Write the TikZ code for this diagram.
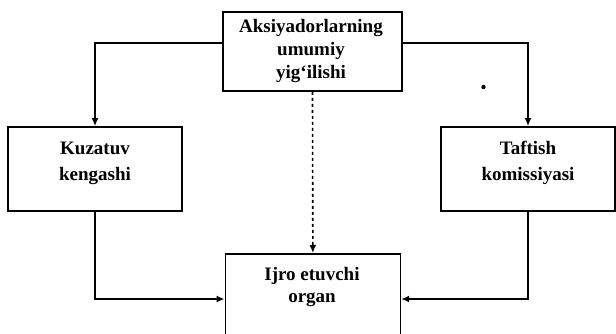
\documentclass[tikz,border=0pt]{standalone}
\usepackage{fontspec}
\setmainfont{Liberation Serif}
\usetikzlibrary{arrows.meta}
\begin{document}
\begin{tikzpicture}[x=1pt,y=-1pt,
  boxst/.style={draw,line width=1.7pt,inner sep=0pt},
  txt/.style={anchor=base,inner sep=0pt,font=\bfseries\fontsize{19}{23}\selectfont},
  conn/.style={line width=1.6pt,-{Latex[length=8pt,width=7pt]}},
  dconn/.style={line width=1.6pt,dash pattern=on 3pt off 3pt,-{Latex[length=8pt,width=7pt]}}]
\useasboundingbox (0,0) rectangle (616,334);
\node[boxst,minimum width=179pt,minimum height=79pt] (top) at (312.5,51.5) {};
\node[txt] (t1) at (311,33) {Aksiyadorlarning};
\node[txt] (t2) at (311,56) {umumiy};
\node[txt] (t3) at (311,79) {yig‘ilishi};
\node[boxst,minimum width=174pt,minimum height=84pt] (kuz) at (95,169) {};
\node[txt] (k1) at (95,155) {Kuzatuv};
\node[txt] (k2) at (95,180) {kengashi};
\node[boxst,minimum width=174pt,minimum height=84pt] (taf) at (528,169) {};
\node[txt] (f1) at (528,155) {Taftish};
\node[txt] (f2) at (528,180) {komissiyasi};
\node[boxst,minimum width=175pt,minimum height=110pt,anchor=north west] (ijro) at (224.5,253) {};
\node[txt] (i1) at (312,280) {Ijro etuvchi};
\node[txt] (i2) at (312,302) {organ};
\coordinate (tl) at (95,43);
\coordinate (tr) at (528,43);
\coordinate (bl) at (95,299);
\coordinate (br) at (528,299);
\draw[conn] (top.west |- tl) -- (tl) -- (kuz.north);
\draw[conn] (top.east |- tr) -- (tr) -- (taf.north);
\draw[conn] (kuz.south) -- (bl) -- (ijro.west |- bl);
\draw[conn] (taf.south) -- (br) -- (ijro.east |- br);
\draw[dconn] (top.south) -- (ijro.north);
\fill (483.5,87) circle (2.2pt) coordinate (dot);
\end{tikzpicture}
\end{document}
